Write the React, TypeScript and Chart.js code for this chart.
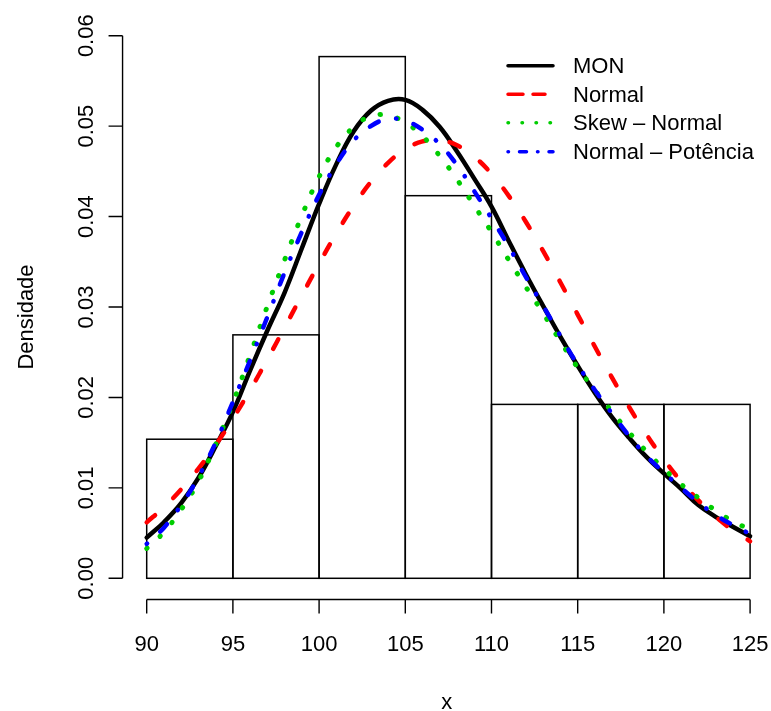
import React, { useEffect, useRef } from 'react';
import { Chart, registerables } from 'chart.js';
Chart.register(...registerables);

// Histogram bins (density)
const binCenters = [92.5, 97.5, 102.5, 107.5, 112.5, 117.5, 122.5];
const binDensity = [0.01538, 0.02692, 0.05769, 0.04231, 0.01923, 0.01923, 0.01923];

// Curve abscissae
const gridX = [90, 91, 92, 93, 94, 95, 96, 97, 98, 99, 100, 101, 102, 103, 104, 105, 106, 107,
  108, 109, 110, 111, 112, 113, 114, 115, 116, 117, 118, 119, 120, 121, 122, 123, 124, 125];

const monY = [0.0045, 0.0062, 0.0083, 0.0111, 0.0146, 0.0184, 0.0230, 0.0274, 0.0316, 0.0365,
  0.0414, 0.0458, 0.0494, 0.0517, 0.0528, 0.0529, 0.0518, 0.0499, 0.0472, 0.0442, 0.0411,
  0.0373, 0.0336, 0.0301, 0.0267, 0.0235, 0.0205, 0.0178, 0.0155, 0.0134, 0.0116, 0.0099,
  0.0081, 0.0068, 0.0057, 0.00465];

const normalY = [0.00619, 0.00786, 0.00984, 0.01213, 0.01474, 0.01765, 0.02082, 0.02421, 0.02773,
  0.03129, 0.0348, 0.03814, 0.04118, 0.04382, 0.04594, 0.04746, 0.04831, 0.04845, 0.04788,
  0.04662, 0.04473, 0.04229, 0.0394, 0.03617, 0.03271, 0.02916, 0.0256, 0.02216, 0.01889,
  0.01587, 0.01314, 0.01071, 0.00861, 0.00682, 0.00532, 0.00409];

const skewY = [0.0033, 0.0051, 0.0076, 0.0107, 0.0148, 0.0194, 0.0247, 0.0301, 0.0352, 0.0401,
  0.0444, 0.0477, 0.0499, 0.0511, 0.0512, 0.0504, 0.0489, 0.0467, 0.0441, 0.0412, 0.0383,
  0.0352, 0.0322, 0.0293, 0.0262, 0.0233, 0.0208, 0.0184, 0.0161, 0.0140, 0.0121, 0.0104,
  0.0089, 0.0075, 0.0063, 0.0054];

const powerY = [0.0038, 0.0056, 0.0081, 0.0112, 0.0150, 0.0195, 0.0241, 0.0289, 0.0338, 0.0383,
  0.0424, 0.0458, 0.0484, 0.0500, 0.0508, 0.0506, 0.0496, 0.0480, 0.0457, 0.0428, 0.0398,
  0.0367, 0.0333, 0.0301, 0.0268, 0.0236, 0.0208, 0.0182, 0.0157, 0.0135, 0.0117, 0.0100,
  0.0084, 0.0070, 0.0059, 0.0049];

const xTicks = [90, 95, 100, 105, 110, 115, 120, 125];
const yTicks = [0, 0.01, 0.02, 0.03, 0.04, 0.05, 0.06];
const yTickLabels = ['0.00', '0.01', '0.02', '0.03', '0.04', '0.05', '0.06'];
const legendLabels = ['MON', 'Normal', 'Skew \u2013 Normal', 'Normal \u2013 Pot\u00eancia'];
const xTitle = 'x';
const yTitle = 'Densidade';

const FONT = '22px "Liberation Sans", Arial, Helvetica, sans-serif';

const toPts = (ys: number[]) => gridX.map((x, i) => ({ x, y: ys[i] }));

const legendStyles = [
  { color: '#000000', dash: [] as number[], end: 553 },
  { color: '#ff0000', dash: [15, 10], end: 545 },
  { color: '#00cd00', dash: [0.5, 13.5], end: 553 },
  { color: '#0000ff', dash: [0.5, 11, 7, 11], end: 553 },
];

const rPlugin = {
  id: 'rstyle',
  afterDatasetDraw(chart: any, args: any) {
    if (args.index !== 0) return;
    const ctx = chart.ctx;
    ctx.save();
    ctx.strokeStyle = '#000';
    ctx.lineWidth = 1.5;
    args.meta.data.forEach((el: any) => {
      const p = el.getProps(['x', 'y', 'base', 'width'], true);
      ctx.strokeRect(p.x - p.width / 2, p.y, p.width, p.base - p.y);
    });
    ctx.restore();
  },
  afterDraw(chart: any) {
    const ctx = chart.ctx;
    const xs = chart.scales.x;
    const ys = chart.scales.y;
    const ca = chart.chartArea;
    ctx.save();
    ctx.strokeStyle = '#000';
    ctx.fillStyle = '#000';
    ctx.lineWidth = 1.4;
    ctx.font = FONT;
    // x axis
    const ay = ca.bottom - 0.5;
    ctx.beginPath();
    ctx.moveTo(xs.getPixelForValue(xTicks[0]), ay);
    ctx.lineTo(xs.getPixelForValue(xTicks[xTicks.length - 1]), ay);
    xTicks.forEach((t) => {
      const px = xs.getPixelForValue(t);
      ctx.moveTo(px, ay);
      ctx.lineTo(px, ay + 14);
    });
    ctx.stroke();
    ctx.textAlign = 'center';
    ctx.textBaseline = 'alphabetic';
    xTicks.forEach((t) => {
      ctx.fillText(String(t), xs.getPixelForValue(t), 651);
    });
    // y axis
    const ax = ca.left;
    ctx.beginPath();
    ctx.moveTo(ax, ys.getPixelForValue(yTicks[0]));
    ctx.lineTo(ax, ys.getPixelForValue(yTicks[yTicks.length - 1]));
    yTicks.forEach((t) => {
      const py = ys.getPixelForValue(t);
      ctx.moveTo(ax, py);
      ctx.lineTo(ax - 14, py);
    });
    ctx.stroke();
    yTicks.forEach((t, i) => {
      const py = ys.getPixelForValue(t);
      ctx.save();
      ctx.translate(93, py);
      ctx.rotate(-Math.PI / 2);
      ctx.fillText(yTickLabels[i], 0, 0);
      ctx.restore();
    });
    // titles
    ctx.fillText(xTitle, (ca.left + ca.right) / 2, 709);
    ctx.save();
    ctx.translate(33, (ca.top + ca.bottom) / 2 + 10);
    ctx.rotate(-Math.PI / 2);
    ctx.fillText(yTitle, 0, 0);
    ctx.restore();
    // legend
    const rows = [65.7, 94.3, 122.7, 151.7];
    ctx.textAlign = 'left';
    legendStyles.forEach((s, i) => {
      ctx.save();
      ctx.strokeStyle = s.color;
      ctx.lineWidth = 3.5;
      ctx.lineCap = 'round';
      ctx.setLineDash(s.dash);
      ctx.beginPath();
      ctx.moveTo(508, rows[i]);
      ctx.lineTo(s.end, rows[i]);
      ctx.stroke();
      ctx.restore();
      ctx.fillText(legendLabels[i], 573, rows[i] + 7.6);
    });
    ctx.restore();
  },
};

export default function App() {
  const ref = useRef<HTMLCanvasElement | null>(null);
  useEffect(() => {
    if (!ref.current) return;
    const lineCommon = {
      type: 'line' as const,
      pointRadius: 0,
      borderCapStyle: 'round' as const,
      borderJoinStyle: 'round' as const,
      tension: 0.4,
      fill: false,
    };
    const chart = new Chart(ref.current, {
      type: 'line',
      data: {
        datasets: [
          {
            type: 'bar',
            label: 'hist',
            data: binCenters.map((x, i) => ({ x, y: binDensity[i] })),
            backgroundColor: 'rgba(0,0,0,0)',
            borderWidth: 0,
            barPercentage: 1,
            categoryPercentage: 1,
            grouped: false,
            order: 5,
          } as any,
          { ...lineCommon, label: legendLabels[0], data: toPts(monY), borderColor: '#000000', borderWidth: 4.5, order: 4 },
          { ...lineCommon, label: legendLabels[1], data: toPts(normalY), borderColor: '#ff0000', borderWidth: 4.5, borderDash: [11, 25], order: 3 },
          { ...lineCommon, label: legendLabels[2], data: toPts(skewY), borderColor: '#00cd00', borderWidth: 5, borderDash: [0.5, 17.5], order: 2 },
          { ...lineCommon, label: legendLabels[3], data: toPts(powerY), borderColor: '#0000ff', borderWidth: 4.5, borderDash: [0.5, 17.75, 10, 17.75], order: 1 },
        ] as any,
      },
      options: {
        animation: false,
        responsive: false,
        devicePixelRatio: 1,
        layout: { padding: { left: 122.56, right: 0, top: 14, bottom: 111 } },
        plugins: { legend: { display: false }, tooltip: { enabled: false } },
        scales: {
          x: { type: 'linear', min: 88.6, max: 126.213, display: false, offset: false },
          y: { type: 'linear', min: -0.0024, max: 0.0624, display: false },
        },
      },
      plugins: [rPlugin],
    });
    return () => chart.destroy();
  }, []);
  return (
    <div style={{ position: 'absolute', left: 0, top: 0, width: 771, height: 711, background: '#fff' }}>
      <canvas ref={ref} width={771} height={711} style={{ width: 771, height: 711, display: 'block' }} />
    </div>
  );
}
